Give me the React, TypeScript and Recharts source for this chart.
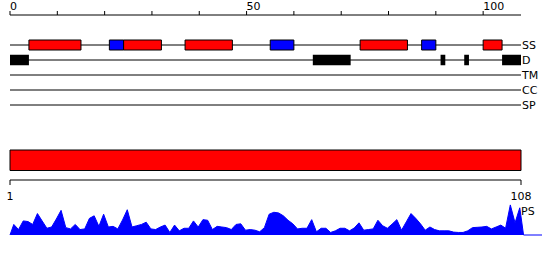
import {
  ComposedChart,
  AreaChart,
  Area,
  XAxis,
  YAxis,
  ReferenceArea,
  ReferenceLine,
} from "recharts";

const seqLength = 108;

// feature tracks, segments given as [start, end] residue positions
const trackLabels = ["SS", "D", "TM", "CC", "SP"];
const helixSegments: [number, number][] = [
  [4, 15],
  [24, 32],
  [37, 47],
  [74, 84],
  [100, 104],
];
const strandSegments: [number, number][] = [
  [21, 24],
  [55, 60],
  [87, 90],
];
const disorderSegments: [number, number][] = [
  [0, 4],
  [64, 72],
  [91, 92],
  [96, 97],
  [104, 108],
];
const topTicks = [0, 10, 20, 30, 40, 50, 60, 70, 80, 90, 100];
const labelledTicks = [0, 50, 100];

// full-length domain bar and its axis
const domainSpan: [number, number] = [1, 108];
const bottomTicks = [1, 108];

// per-residue PS score (0..1)
const psScores = [
  0.33, 0.17, 0.44, 0.42, 0.33, 0.67, 0.44, 0.21, 0.25, 0.5,
  0.77, 0.23, 0.19, 0.33, 0.17, 0.19, 0.52, 0.6, 0.27, 0.65,
  0.25, 0.27, 0.19, 0.47, 0.79, 0.25, 0.29, 0.33, 0.4, 0.19,
  0.17, 0.25, 0.31, 0.08, 0.31, 0.13, 0.21, 0.21, 0.44, 0.25,
  0.48, 0.46, 0.17, 0.27, 0.25, 0.23, 0.17, 0.33, 0.35, 0.15,
  0.17, 0.15, 0.1, 0.23, 0.65, 0.71, 0.69, 0.6, 0.46, 0.35,
  0.19, 0.21, 0.21, 0.48, 0.1, 0.21, 0.21, 0.08, 0.13, 0.21,
  0.21, 0.13, 0.22, 0.38, 0.15, 0.17, 0.19, 0.46, 0.29, 0.21,
  0.34, 0.48, 0.15, 0.41, 0.67, 0.52, 0.35, 0.15, 0.25, 0.17,
  0.13, 0.13, 0.13, 0.09, 0.08, 0.08, 0.13, 0.23, 0.24, 0.25,
  0.27, 0.19, 0.25, 0.31, 0.21, 0.94, 0.38, 0.85,
];

const psEnd = 112.5;

const trackRows = trackLabels.map((label, i) => ({
  label,
  row: i + 1,
  start: 0,
  end: seqLength,
}));

const spanRows = domainSpan.map((pos) => ({ pos, lane: 2 }));

// residue i sits a little inside its cell; profile closes to zero on both ends
const psData = [
  { pos: 0, score: 0 },
  ...psScores.map((score, i) => ({ pos: i + 0.8, score })),
  { pos: seqLength + 0.6, score: 0 },
  { pos: psEnd, score: 0 },
];

const RED = "#ff0000";
const BLUE = "#0000ff";
const BLACK = "#000000";

const boxHalf = 1 / 3;

export default function App() {
  return (
    <div
      style={{
        position: "absolute",
        left: 0,
        top: 0,
        width: 550,
        height: 260,
        background: "#fff",
        fontFamily: "DejaVu Sans",
      }}
    >
      <div style={{ position: "absolute", left: 0, top: 0 }}>
        <ComposedChart
          width={550}
          height={115}
          data={trackRows}
          margin={{ top: 0, right: 29, bottom: 10, left: 10 }}
        >
          <XAxis
            type="number"
            dataKey="end"
            orientation="top"
            domain={[0, seqLength]}
            ticks={topTicks}
            interval={0}
            height={15}
            tickSize={4}
            tickMargin={1}
            allowDataOverflow
            axisLine={{ stroke: BLACK }}
            tickLine={{ stroke: BLACK }}
            tick={{ fill: BLACK, fontSize: 11, textAnchor: "start" }}
            tickFormatter={(v) => (labelledTicks.includes(v) ? String(v) : "")}
          />
          <YAxis
            type="number"
            dataKey="row"
            hide
            domain={[-1, 5]}
            reversed
            allowDataOverflow
          />
          {trackRows.map((t) => (
            <ReferenceLine
              key={t.label}
              y={t.row}
              stroke={BLACK}
              strokeOpacity={1}
              label={{ value: t.label, position: "right", offset: 1, fill: BLACK, fontSize: 11 }}
            />
          ))}
          {helixSegments.map(([s, e]) => (
            <ReferenceArea
              key={`h${s}`}
              x1={s}
              x2={e}
              y1={1 - boxHalf}
              y2={1 + boxHalf}
              fill={RED}
              fillOpacity={1}
              stroke={BLACK}
              strokeOpacity={1}
              zIndex={450}
            />
          ))}
          {strandSegments.map(([s, e]) => (
            <ReferenceArea
              key={`s${s}`}
              x1={s}
              x2={e}
              y1={1 - boxHalf}
              y2={1 + boxHalf}
              fill={BLUE}
              fillOpacity={1}
              stroke={BLACK}
              strokeOpacity={1}
              zIndex={450}
            />
          ))}
          {disorderSegments.map(([s, e]) => (
            <ReferenceArea
              key={`d${s}`}
              x1={s}
              x2={e}
              y1={2 - 0.35}
              y2={2 + 0.35}
              fill={BLACK}
              fillOpacity={1}
              stroke="none"
              zIndex={450}
            />
          ))}
        </ComposedChart>
      </div>

      <div style={{ position: "absolute", left: 0, top: 140 }}>
        <ComposedChart
          width={550}
          height={70}
          data={spanRows}
          margin={{ top: 0, right: 29, bottom: 0, left: 10 }}
        >
          <XAxis
            type="number"
            dataKey="pos"
            domain={domainSpan}
            ticks={bottomTicks}
            interval={0}
            height={30}
            tickSize={5}
            tickMargin={7}
            axisLine={{ stroke: BLACK }}
            tickLine={{ stroke: BLACK }}
            tick={{ fill: BLACK, fontSize: 11 }}
          />
          <YAxis type="number" dataKey="lane" hide domain={[0, 4]} allowDataOverflow />
          <ReferenceArea
            x1={domainSpan[0]}
            x2={domainSpan[1]}
            y1={0.95}
            y2={3}
            fill={RED}
            fillOpacity={1}
            stroke={BLACK}
            strokeOpacity={1}
          />
        </ComposedChart>
      </div>

      <div style={{ position: "absolute", left: 0, top: 195 }}>
        <AreaChart
          width={550}
          height={45}
          data={psData}
          margin={{ top: 8, right: 8, bottom: 5, left: 10 }}
        >
          <XAxis type="number" dataKey="pos" hide domain={[0, psEnd]} />
          <YAxis type="number" hide domain={[0, 1]} />
          <Area
            type="linear"
            dataKey="score"
            stroke={BLUE}
            strokeWidth={1}
            fill={BLUE}
            fillOpacity={1}
            dot={false}
            activeDot={false}
            isAnimationActive={false}
          />
        </AreaChart>
      </div>

      <div
        style={{
          position: "absolute",
          left: 521,
          top: 205,
          fontSize: 11,
          color: BLACK,
          lineHeight: "normal",
        }}
      >
        PS
      </div>
    </div>
  );
}
